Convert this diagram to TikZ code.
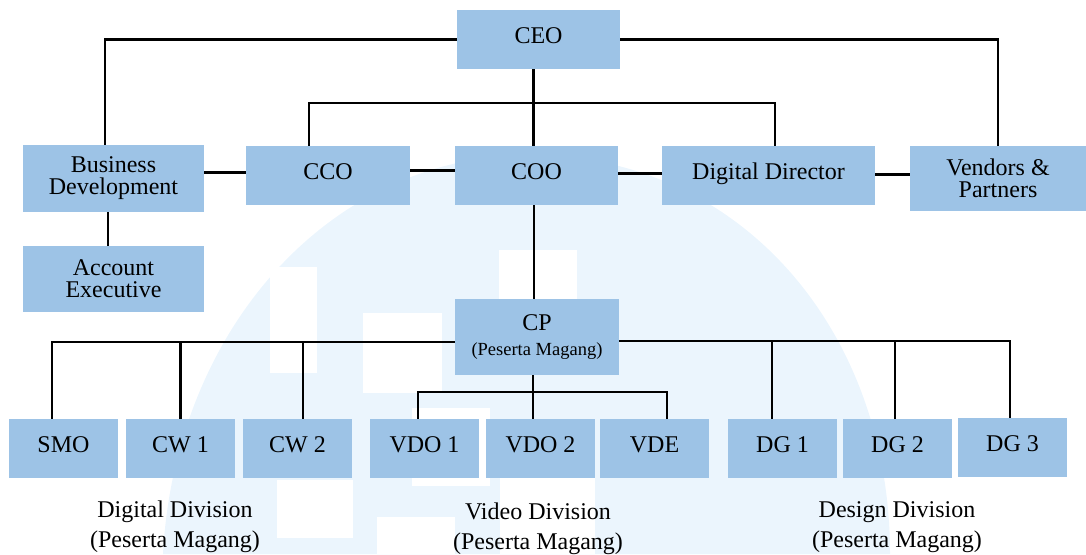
\documentclass[tikz,border=0pt]{standalone}
\usepackage{fontspec}
\setmainfont{Liberation Serif}
\definecolor{boxblue}{HTML}{9DC3E6}
\definecolor{wmblue}{HTML}{EBF5FD}
\begin{document}
\begin{tikzpicture}[x=1pt,y=-1pt,
  box/.style={fill=boxblue, inner sep=0pt, align=center, font=\fontsize{24}{22}\selectfont},
  single/.style={text height=17pt, text depth=9pt},
  small/.style={box, single, minimum width=109pt, minimum height=59pt},
  conn/.style={draw=black, line width=2.2pt},
  divlabel/.style={align=center, inner sep=0pt, font=\fontsize{24}{30}\selectfont}]
\useasboundingbox (0,0) rectangle (1086,554);
% watermark
\fill[wmblue] (163,554) .. controls (175,330) and (330,155) .. (530,155)
  .. controls (740,155) and (890,330) .. (890,554) -- cycle;
\fill[white] (270,267) rectangle (317,373);
\fill[white] (363,313) rectangle (442,393);
\fill[white] (412,408) rectangle (490,486);
\fill[white] (277,480) rectangle (353,538);
\fill[white] (377,517) rectangle (455,554);
\fill[white] (499,250) rectangle (577,299);
\fill[white] (500,478) rectangle (595,554);
% boxes
\node[box, single, minimum width=163pt, minimum height=59pt] (ceo) at (538.5,39.5) {CEO};
\node[box, minimum width=181pt, minimum height=67pt] (bd) at (113.5,178.5) {Business\\Development};
\node[box, single, minimum width=164pt, minimum height=59pt] (cco) at (328,175.5) {CCO};
\node[box, single, minimum width=163pt, minimum height=59pt] (coo) at (536.5,175.5) {COO};
\node[box, single, minimum width=213pt, minimum height=59pt] (dd) at (768.5,175.5) {Digital Director};
\node[box, minimum width=176pt, minimum height=65pt] (vp) at (998,178.5) {Vendors \&\\Partners};
\node[box, minimum width=181pt, minimum height=66pt] (ae) at (113.5,279) {Account\\Executive};
\node[box, minimum width=164pt, minimum height=76pt] (cp) at (537,337) {CP\\[3pt]{\fontsize{18.5}{20}\selectfont (Peserta Magang)}};
\node[small] (smo) at (63.5,448.5) {SMO};
\node[small] (cw1) at (180.5,448.5) {CW 1};
\node[small] (cw2) at (297.5,448.5) {CW 2};
\node[small] (vdo1) at (424.5,448.5) {VDO 1};
\node[small] (vdo2) at (540.5,448.5) {VDO 2};
\node[small] (vde) at (654.5,448.5) {VDE};
\node[small] (dg1) at (782.5,448.5) {DG 1};
\node[small] (dg2) at (897.5,448.5) {DG 2};
\node[small] (dg3) at (1012.5,447.5) {DG 3};
% division labels
\node[divlabel] (ldig) at (175,526.5) {Digital Division\\(Peserta Magang)};
\node[divlabel] (lvid) at (538,529) {Video Division\\(Peserta Magang)};
\node[divlabel] (ldes) at (897,527.5) {Design Division\\(Peserta Magang)};
% helper coordinates
\coordinate (bdN) at ([xshift=-8.5pt]bd.north);
\coordinate (ceoS) at ([xshift=-5pt]ceo.south);
\coordinate (bus) at ([yshift=-34pt]ceo.south);
\coordinate (ccoN) at ([xshift=-19pt]cco.north);
\coordinate (ddN) at ([xshift=6.5pt]dd.north);
\coordinate (bdS) at ([xshift=-5.5pt]bd.south);
\coordinate (aeN) at ([xshift=-5.5pt]ae.north);
\coordinate (cpN) at ([xshift=-3pt]cp.north);
\coordinate (lb) at ([yshift=-5pt]cp.west);
\coordinate (rb) at ([yshift=-4pt]cp.east);
\coordinate (smoN) at ([xshift=-11.5pt]smo.north);
\coordinate (cw2N) at ([xshift=5.5pt]cw2.north);
\coordinate (dg1N) at ([xshift=-10.5pt]dg1.north);
\coordinate (dg2N) at ([xshift=-2.5pt]dg2.north);
\coordinate (dg3N) at ([xshift=-2.5pt]dg3.north);
\coordinate (cpS) at ([xshift=-4pt]cp.south);
\coordinate (vb) at ([xshift=-4pt,yshift=-17pt]cp.south);
\coordinate (v1N) at ([xshift=-6.5pt]vdo1.north);
\coordinate (v2N) at ([xshift=-7.5pt]vdo2.north);
\coordinate (vdeN) at ([xshift=12.5pt]vde.north);
% connectors
\draw[conn] (ceo.west) -| (bdN);
\draw[conn] (ceo.east) -| (vp.north);
\draw[conn] (ceoS) -- (ceoS |- coo.north);
\draw[conn] (ccoN) |- (bus) -| (ddN);
\draw[conn] ([yshift=3pt]cco.west) -- ([yshift=3pt]cco.west -| bd.east);
\draw[conn] ([yshift=5pt]coo.west) -- ([yshift=5pt]coo.west -| cco.east);
\draw[conn] ([yshift=2pt]dd.west) -- ([yshift=2pt]dd.west -| coo.east);
\draw[conn] ([yshift=1pt]dd.east) -- ([yshift=1pt]dd.east -| vp.west);
\draw[conn] (bdS) -- (aeN);
\draw[conn] (cpN) -- (cpN |- coo.south);
\draw[conn] (lb) -| (smoN);
\draw[conn] (cw1.north) -- (cw1.north |- lb);
\draw[conn] (cw2N) -- (cw2N |- lb);
\draw[conn] (rb) -| (dg3N);
\draw[conn] (dg1N) -- (dg1N |- rb);
\draw[conn] (dg2N) -- (dg2N |- rb);
\draw[conn] (cpS) -- (v2N);
\draw[conn] (v1N) |- (vb) -| (vdeN);
\end{tikzpicture}
\end{document}
